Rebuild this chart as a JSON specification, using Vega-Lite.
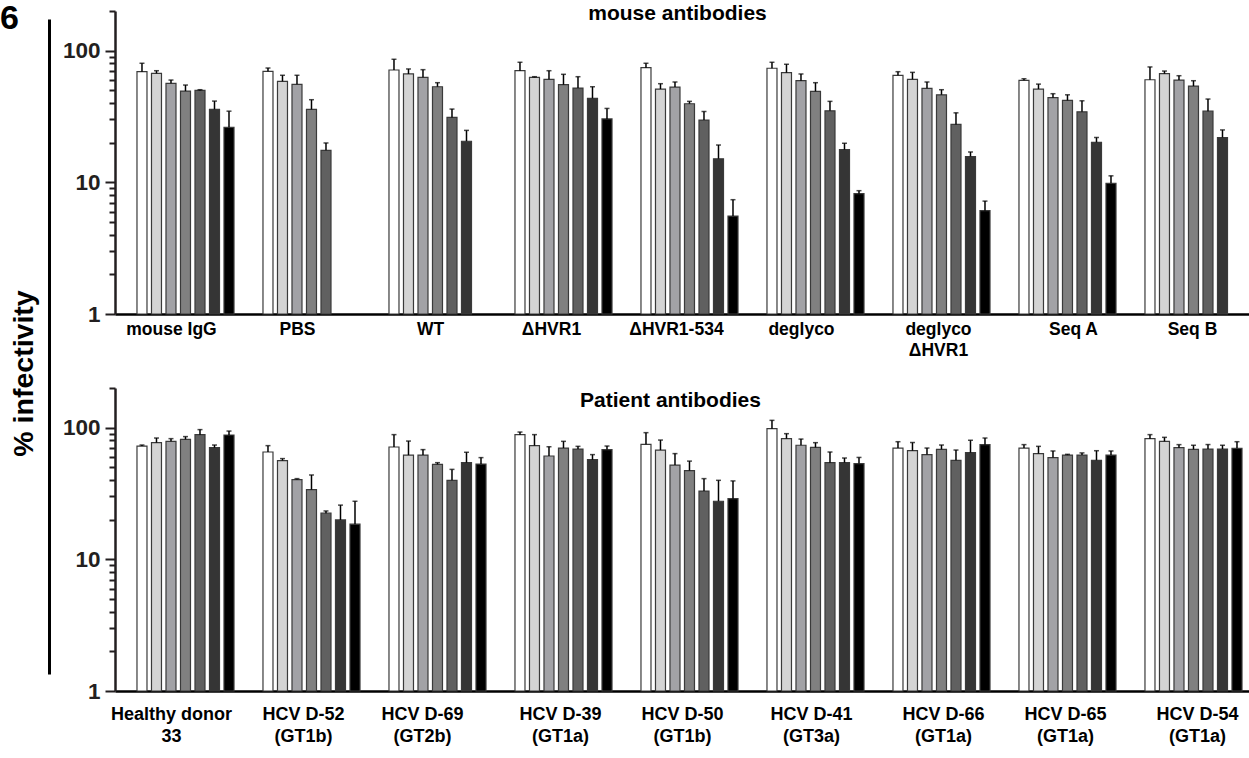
{
  "$schema": "https://vega.github.io/schema/vega-lite/v6.json",
  "padding": 0,
  "background": "white",
  "config": {
    "font": "Liberation Sans",
    "view": {"stroke": null},
    "axis": {"labelFont": "Liberation Sans", "labelFontWeight": "bold", "titleFont": "Liberation Sans", "titleFontWeight": "bold", "grid": false},
    "title": {"font": "Liberation Sans", "fontWeight": "bold", "color": "#000000"}
  },
  "datasets": {
    "bars": [
      {"panel": "mouse", "group": "mouse IgG", "slot": 1, "value": 69.2, "hi": 80.2},
      {"panel": "mouse", "group": "mouse IgG", "slot": 2, "value": 67.3, "hi": 70.4},
      {"panel": "mouse", "group": "mouse IgG", "slot": 3, "value": 56.5, "hi": 59.8},
      {"panel": "mouse", "group": "mouse IgG", "slot": 4, "value": 49.3, "hi": 54.8},
      {"panel": "mouse", "group": "mouse IgG", "slot": 5, "value": 49.9, "hi": 50.5},
      {"panel": "mouse", "group": "mouse IgG", "slot": 6, "value": 35.8, "hi": 41.4},
      {"panel": "mouse", "group": "mouse IgG", "slot": 7, "value": 26.2, "hi": 34.7},
      {"panel": "mouse", "group": "PBS", "slot": 1, "value": 69.7, "hi": 73.8},
      {"panel": "mouse", "group": "PBS", "slot": 2, "value": 58.5, "hi": 65.0},
      {"panel": "mouse", "group": "PBS", "slot": 3, "value": 55.5, "hi": 65.0},
      {"panel": "mouse", "group": "PBS", "slot": 4, "value": 35.8, "hi": 42.4},
      {"panel": "mouse", "group": "PBS", "slot": 5, "value": 17.5, "hi": 19.9},
      {"panel": "mouse", "group": "WT", "slot": 1, "value": 71.3, "hi": 86.0},
      {"panel": "mouse", "group": "WT", "slot": 2, "value": 66.5, "hi": 72.6},
      {"panel": "mouse", "group": "WT", "slot": 3, "value": 62.7, "hi": 71.7},
      {"panel": "mouse", "group": "WT", "slot": 4, "value": 53.2, "hi": 57.1},
      {"panel": "mouse", "group": "WT", "slot": 5, "value": 31.1, "hi": 36.0},
      {"panel": "mouse", "group": "WT", "slot": 6, "value": 20.5, "hi": 24.8},
      {"panel": "mouse", "group": "ΔHVR1", "slot": 1, "value": 70.4, "hi": 81.6},
      {"panel": "mouse", "group": "ΔHVR1", "slot": 2, "value": 62.7, "hi": 63.4},
      {"panel": "mouse", "group": "ΔHVR1", "slot": 3, "value": 60.6, "hi": 70.4},
      {"panel": "mouse", "group": "ΔHVR1", "slot": 4, "value": 55.1, "hi": 66.1},
      {"panel": "mouse", "group": "ΔHVR1", "slot": 5, "value": 52.0, "hi": 63.4},
      {"panel": "mouse", "group": "ΔHVR1", "slot": 6, "value": 43.4, "hi": 53.2},
      {"panel": "mouse", "group": "ΔHVR1", "slot": 7, "value": 30.3, "hi": 36.4},
      {"panel": "mouse", "group": "ΔHVR1-534", "slot": 1, "value": 74.3, "hi": 80.2},
      {"panel": "mouse", "group": "ΔHVR1-534", "slot": 2, "value": 51.1, "hi": 56.1},
      {"panel": "mouse", "group": "ΔHVR1-534", "slot": 3, "value": 52.9, "hi": 57.8},
      {"panel": "mouse", "group": "ΔHVR1-534", "slot": 4, "value": 39.5, "hi": 41.2},
      {"panel": "mouse", "group": "ΔHVR1-534", "slot": 5, "value": 29.7, "hi": 34.5},
      {"panel": "mouse", "group": "ΔHVR1-534", "slot": 6, "value": 15.1, "hi": 19.2},
      {"panel": "mouse", "group": "ΔHVR1-534", "slot": 7, "value": 5.54, "hi": 7.38},
      {"panel": "mouse", "group": "deglyco", "slot": 1, "value": 73.5, "hi": 81.6},
      {"panel": "mouse", "group": "deglyco", "slot": 2, "value": 68.0, "hi": 78.8},
      {"panel": "mouse", "group": "deglyco", "slot": 3, "value": 59.1, "hi": 66.5},
      {"panel": "mouse", "group": "deglyco", "slot": 4, "value": 49.1, "hi": 57.1},
      {"panel": "mouse", "group": "deglyco", "slot": 5, "value": 34.9, "hi": 41.2},
      {"panel": "mouse", "group": "deglyco", "slot": 6, "value": 17.7, "hi": 19.8},
      {"panel": "mouse", "group": "deglyco", "slot": 7, "value": 8.2, "hi": 8.64},
      {"panel": "mouse", "group": "deglyco|ΔHVR1", "slot": 1, "value": 65.0, "hi": 69.2},
      {"panel": "mouse", "group": "deglyco|ΔHVR1", "slot": 2, "value": 60.6, "hi": 68.4},
      {"panel": "mouse", "group": "deglyco|ΔHVR1", "slot": 3, "value": 51.7, "hi": 57.8},
      {"panel": "mouse", "group": "deglyco|ΔHVR1", "slot": 4, "value": 46.2, "hi": 50.5},
      {"panel": "mouse", "group": "deglyco|ΔHVR1", "slot": 5, "value": 27.5, "hi": 33.7},
      {"panel": "mouse", "group": "deglyco|ΔHVR1", "slot": 6, "value": 15.7, "hi": 17.0},
      {"panel": "mouse", "group": "deglyco|ΔHVR1", "slot": 7, "value": 6.09, "hi": 7.2},
      {"panel": "mouse", "group": "Seq A", "slot": 1, "value": 59.5, "hi": 61.2},
      {"panel": "mouse", "group": "Seq A", "slot": 2, "value": 51.1, "hi": 55.7},
      {"panel": "mouse", "group": "Seq A", "slot": 3, "value": 43.9, "hi": 47.1},
      {"panel": "mouse", "group": "Seq A", "slot": 4, "value": 41.9, "hi": 46.2},
      {"panel": "mouse", "group": "Seq A", "slot": 5, "value": 34.3, "hi": 41.6},
      {"panel": "mouse", "group": "Seq A", "slot": 6, "value": 20.1, "hi": 21.9},
      {"panel": "mouse", "group": "Seq A", "slot": 7, "value": 9.83, "hi": 11.2},
      {"panel": "mouse", "group": "Seq B", "slot": 1, "value": 60.1, "hi": 75.2},
      {"panel": "mouse", "group": "Seq B", "slot": 2, "value": 66.8, "hi": 70.0},
      {"panel": "mouse", "group": "Seq B", "slot": 3, "value": 59.8, "hi": 64.5},
      {"panel": "mouse", "group": "Seq B", "slot": 4, "value": 53.8, "hi": 59.1},
      {"panel": "mouse", "group": "Seq B", "slot": 5, "value": 34.7, "hi": 42.9},
      {"panel": "mouse", "group": "Seq B", "slot": 6, "value": 21.9, "hi": 25.0},
      {"panel": "patient", "group": "Healthy donor|33", "slot": 1, "value": 72.5, "hi": 73.8},
      {"panel": "patient", "group": "Healthy donor|33", "slot": 2, "value": 76.9, "hi": 83.4},
      {"panel": "patient", "group": "Healthy donor|33", "slot": 3, "value": 78.7, "hi": 82.5},
      {"panel": "patient", "group": "Healthy donor|33", "slot": 4, "value": 81.5, "hi": 85.5},
      {"panel": "patient", "group": "Healthy donor|33", "slot": 5, "value": 88.5, "hi": 96.6},
      {"panel": "patient", "group": "Healthy donor|33", "slot": 6, "value": 70.4, "hi": 73.8},
      {"panel": "patient", "group": "Healthy donor|33", "slot": 7, "value": 87.9, "hi": 94.2},
      {"panel": "patient", "group": "HCV D-52|(GT1b)", "slot": 1, "value": 65.3, "hi": 73.0},
      {"panel": "patient", "group": "HCV D-52|(GT1b)", "slot": 2, "value": 56.2, "hi": 58.2},
      {"panel": "patient", "group": "HCV D-52|(GT1b)", "slot": 3, "value": 40.3, "hi": 41.0},
      {"panel": "patient", "group": "HCV D-52|(GT1b)", "slot": 4, "value": 33.8, "hi": 43.7},
      {"panel": "patient", "group": "HCV D-52|(GT1b)", "slot": 5, "value": 22.4, "hi": 23.3},
      {"panel": "patient", "group": "HCV D-52|(GT1b)", "slot": 6, "value": 19.9, "hi": 25.8},
      {"panel": "patient", "group": "HCV D-52|(GT1b)", "slot": 7, "value": 18.5, "hi": 27.6},
      {"panel": "patient", "group": "HCV D-69|(GT2b)", "slot": 1, "value": 71.3, "hi": 88.5},
      {"panel": "patient", "group": "HCV D-69|(GT2b)", "slot": 2, "value": 61.9, "hi": 79.1},
      {"panel": "patient", "group": "HCV D-69|(GT2b)", "slot": 3, "value": 61.9, "hi": 68.1},
      {"panel": "patient", "group": "HCV D-69|(GT2b)", "slot": 4, "value": 52.6, "hi": 54.2},
      {"panel": "patient", "group": "HCV D-69|(GT2b)", "slot": 5, "value": 39.8, "hi": 48.2},
      {"panel": "patient", "group": "HCV D-69|(GT2b)", "slot": 6, "value": 54.2, "hi": 65.0},
      {"panel": "patient", "group": "HCV D-69|(GT2b)", "slot": 7, "value": 52.9, "hi": 59.2},
      {"panel": "patient", "group": "HCV D-39|(GT1a)", "slot": 1, "value": 88.5, "hi": 92.6},
      {"panel": "patient", "group": "HCV D-39|(GT1a)", "slot": 2, "value": 73.0, "hi": 88.5},
      {"panel": "patient", "group": "HCV D-39|(GT1a)", "slot": 3, "value": 60.9, "hi": 71.6},
      {"panel": "patient", "group": "HCV D-39|(GT1a)", "slot": 4, "value": 70.0, "hi": 78.7},
      {"panel": "patient", "group": "HCV D-39|(GT1a)", "slot": 5, "value": 68.8, "hi": 72.1},
      {"panel": "patient", "group": "HCV D-39|(GT1a)", "slot": 6, "value": 57.1, "hi": 62.4},
      {"panel": "patient", "group": "HCV D-39|(GT1a)", "slot": 7, "value": 68.1, "hi": 72.5},
      {"panel": "patient", "group": "HCV D-50|(GT1b)", "slot": 1, "value": 74.7, "hi": 91.6},
      {"panel": "patient", "group": "HCV D-50|(GT1b)", "slot": 2, "value": 67.6, "hi": 80.5},
      {"panel": "patient", "group": "HCV D-50|(GT1b)", "slot": 3, "value": 52.0, "hi": 63.5},
      {"panel": "patient", "group": "HCV D-50|(GT1b)", "slot": 4, "value": 47.2, "hi": 55.7},
      {"panel": "patient", "group": "HCV D-50|(GT1b)", "slot": 5, "value": 33.0, "hi": 41.0},
      {"panel": "patient", "group": "HCV D-50|(GT1b)", "slot": 6, "value": 27.6, "hi": 39.8},
      {"panel": "patient", "group": "HCV D-50|(GT1b)", "slot": 7, "value": 28.9, "hi": 39.4},
      {"panel": "patient", "group": "HCV D-41|(GT3a)", "slot": 1, "value": 98.2, "hi": 113.6},
      {"panel": "patient", "group": "HCV D-41|(GT3a)", "slot": 2, "value": 82.5, "hi": 90.0},
      {"panel": "patient", "group": "HCV D-41|(GT3a)", "slot": 3, "value": 73.5, "hi": 81.9},
      {"panel": "patient", "group": "HCV D-41|(GT3a)", "slot": 4, "value": 70.8, "hi": 76.9},
      {"panel": "patient", "group": "HCV D-41|(GT3a)", "slot": 5, "value": 54.2, "hi": 65.3},
      {"panel": "patient", "group": "HCV D-41|(GT3a)", "slot": 6, "value": 54.2, "hi": 58.8},
      {"panel": "patient", "group": "HCV D-41|(GT3a)", "slot": 7, "value": 53.3, "hi": 59.4},
      {"panel": "patient", "group": "HCV D-66|(GT1a)", "slot": 1, "value": 70.0, "hi": 78.2},
      {"panel": "patient", "group": "HCV D-66|(GT1a)", "slot": 2, "value": 66.8, "hi": 77.1},
      {"panel": "patient", "group": "HCV D-66|(GT1a)", "slot": 3, "value": 62.4, "hi": 70.0},
      {"panel": "patient", "group": "HCV D-66|(GT1a)", "slot": 4, "value": 68.4, "hi": 73.8},
      {"panel": "patient", "group": "HCV D-66|(GT1a)", "slot": 5, "value": 56.5, "hi": 67.6},
      {"panel": "patient", "group": "HCV D-66|(GT1a)", "slot": 6, "value": 64.5, "hi": 80.2},
      {"panel": "patient", "group": "HCV D-66|(GT1a)", "slot": 7, "value": 74.3, "hi": 83.4},
      {"panel": "patient", "group": "HCV D-65|(GT1a)", "slot": 1, "value": 70.0, "hi": 74.3},
      {"panel": "patient", "group": "HCV D-65|(GT1a)", "slot": 2, "value": 63.5, "hi": 72.1},
      {"panel": "patient", "group": "HCV D-65|(GT1a)", "slot": 3, "value": 59.2, "hi": 66.5},
      {"panel": "patient", "group": "HCV D-65|(GT1a)", "slot": 4, "value": 61.9, "hi": 62.7},
      {"panel": "patient", "group": "HCV D-65|(GT1a)", "slot": 5, "value": 61.9, "hi": 64.3},
      {"panel": "patient", "group": "HCV D-65|(GT1a)", "slot": 6, "value": 56.5, "hi": 66.8},
      {"panel": "patient", "group": "HCV D-65|(GT1a)", "slot": 7, "value": 61.9, "hi": 66.5},
      {"panel": "patient", "group": "HCV D-54|(GT1a)", "slot": 1, "value": 82.5, "hi": 88.5},
      {"panel": "patient", "group": "HCV D-54|(GT1a)", "slot": 2, "value": 78.7, "hi": 84.4},
      {"panel": "patient", "group": "HCV D-54|(GT1a)", "slot": 3, "value": 70.4, "hi": 74.3},
      {"panel": "patient", "group": "HCV D-54|(GT1a)", "slot": 4, "value": 68.4, "hi": 73.5},
      {"panel": "patient", "group": "HCV D-54|(GT1a)", "slot": 5, "value": 68.8, "hi": 74.4},
      {"panel": "patient", "group": "HCV D-54|(GT1a)", "slot": 6, "value": 68.8, "hi": 73.5},
      {"panel": "patient", "group": "HCV D-54|(GT1a)", "slot": 7, "value": 69.7, "hi": 78.2}
    ]
  },
  "spacing": 9,
  "hconcat": [
    {
      "data": {"name": "bars"},
      "width": 1,
      "height": 663,
      "title": {"text": "6", "anchor": "start", "frame": "group", "fontSize": 34, "dx": -49, "offset": -25},
      "mark": {"type": "point", "opacity": 0},
      "encoding": {
        "y": {
          "field": "value",
          "type": "quantitative",
          "scale": {"range": [663, 8]},
          "axis": {
            "domain": true, "domainColor": "#000000", "domainWidth": 3,
            "ticks": false, "labels": false, "grid": false,
            "title": "% infectivity", "titleFontSize": 28.5, "titleColor": "#000000",
            "titlePadding": 11, "titleY": 362
          }
        }
      }
    },
    {
      "spacing": 17,
      "vconcat": [
        {
          "data": {"name": "bars"},
          "transform": [{"filter": "datum.panel === 'mouse'"}],
          "width": 1135,
          "height": 303,
          "title": {"text": "mouse antibodies", "fontSize": 21, "anchor": "middle", "frame": "group", "offset": -23.6, "dx": -5},
          "encoding": {
            "x": {
              "field": "group", "type": "nominal",
              "sort": ["mouse IgG", "PBS", "WT", "ΔHVR1", "ΔHVR1-534", "deglyco", "deglyco|ΔHVR1", "Seq A", "Seq B"],
              "scale": {"paddingInner": 0.23, "paddingOuter": 0.119, "align": 0.733},
              "axis": {
                "title": null, "ticks": false, "labelAngle": 0,
                "domainColor": "#000000", "domainWidth": 2.5,
                "labelFontSize": 17.5, "labelColor": "#000000", "labelPadding": 6,
                "labelBaseline": "top", "labelLineHeight": 21.7,
                "labelExpr": "split(datum.label, '|')",
                "labelOffset": {"expr": "[-14, -14, -7, -12, -13, -14, -3, 6, -1][indexof(['mouse IgG', 'PBS', 'WT', 'ΔHVR1', 'ΔHVR1-534', 'deglyco', 'deglyco|ΔHVR1', 'Seq A', 'Seq B'], datum.value)]"}
              }
            },
            "xOffset": {"field": "slot", "type": "ordinal", "scale": {"domain": [1, 2, 3, 4, 5, 6, 7], "paddingInner": 0.31, "paddingOuter": 0}}
          },
          "resolve": {"axis": {"y": "independent"}},
          "layer": [
            {
              "mark": {"type": "bar", "stroke": "#3a3a3a", "strokeWidth": 1.2},
              "encoding": {
                "y": {
                  "field": "value", "type": "quantitative", "stack": null,
                  "scale": {"type": "log", "domain": [1, 200], "nice": false},
                  "axis": {
                    "title": null, "orient": "left",
                    "values": [1, 2, 3, 4, 5, 6, 7, 8, 9, 10, 20, 30, 40, 50, 60, 70, 80, 90, 100, 200],
                    "tickCount": 40,
                    "labelExpr": "datum.value == 1 || datum.value == 10 || datum.value == 100 ? datum.value + '' : ''",
                    "tickSize": 10, "tickWidth": 2, "tickColor": "#231f20",
                    "tickDash": {"condition": {"test": "datum.value != 1 && datum.value != 10 && datum.value != 100", "value": [6, 100]}, "value": [100, 0]},
                    "domainColor": "#231f20", "domainWidth": 2.5,
                    "labelFontSize": 22.5, "labelColor": "#231f20", "labelPadding": 5,
                    "labelOverlap": false, "labelFlush": false, "grid": false
                  }
                },
                "y2": {"datum": 1},
                "fill": {
                  "field": "slot", "type": "ordinal", "legend": null,
                  "scale": {"domain": [1, 2, 3, 4, 5, 6, 7], "range": ["#ffffff", "#d4d4d4", "#a2a2a6", "#808080", "#606060", "#353535", "#000000"]}
                }
              }
            },
            {
              "mark": {"type": "rule", "strokeWidth": 1.5, "color": "#000000"},
              "encoding": {
                "y": {"field": "value", "type": "quantitative", "axis": null},
                "y2": {"field": "hi"}
              }
            },
            {
              "mark": {"type": "tick", "orient": "horizontal", "size": 5, "thickness": 1.5, "color": "#000000"},
              "encoding": {
                "y": {"field": "hi", "type": "quantitative", "axis": null}
              }
            }
          ]
        },
        {
          "data": {"name": "bars"},
          "transform": [{"filter": "datum.panel === 'patient'"}],
          "width": 1135,
          "height": 303,
          "title": {"text": "Patient antibodies", "fontSize": 21, "anchor": "middle", "frame": "group", "offset": -34, "dx": -12},
          "encoding": {
            "x": {
              "field": "group", "type": "nominal",
              "sort": ["Healthy donor|33", "HCV D-52|(GT1b)", "HCV D-69|(GT2b)", "HCV D-39|(GT1a)", "HCV D-50|(GT1b)", "HCV D-41|(GT3a)", "HCV D-66|(GT1a)", "HCV D-65|(GT1a)", "HCV D-54|(GT1a)"],
              "scale": {"paddingInner": 0.23, "paddingOuter": 0.119, "align": 0.733},
              "axis": {
                "title": null, "ticks": false, "labelAngle": 0,
                "domainColor": "#000000", "domainWidth": 2.5,
                "labelFontSize": 18, "labelColor": "#000000", "labelPadding": 14,
                "labelBaseline": "top", "labelLineHeight": 22.5,
                "labelExpr": "split(datum.label, '|')",
                "labelOffset": {"expr": "[-14, -8, -15, -3, -7, -4, 2, -2, 4][indexof(['Healthy donor|33', 'HCV D-52|(GT1b)', 'HCV D-69|(GT2b)', 'HCV D-39|(GT1a)', 'HCV D-50|(GT1b)', 'HCV D-41|(GT3a)', 'HCV D-66|(GT1a)', 'HCV D-65|(GT1a)', 'HCV D-54|(GT1a)'], datum.value)]"}
              }
            },
            "xOffset": {"field": "slot", "type": "ordinal", "scale": {"domain": [1, 2, 3, 4, 5, 6, 7], "paddingInner": 0.31, "paddingOuter": 0}}
          },
          "resolve": {"axis": {"y": "independent"}},
          "layer": [
            {
              "mark": {"type": "bar", "stroke": "#3a3a3a", "strokeWidth": 1.2},
              "encoding": {
                "y": {
                  "field": "value", "type": "quantitative", "stack": null,
                  "scale": {"type": "log", "domain": [1, 200], "nice": false},
                  "axis": {
                    "title": null, "orient": "left",
                    "values": [1, 2, 3, 4, 5, 6, 7, 8, 9, 10, 20, 30, 40, 50, 60, 70, 80, 90, 100, 200],
                    "tickCount": 40,
                    "labelExpr": "datum.value == 1 || datum.value == 10 || datum.value == 100 ? datum.value + '' : ''",
                    "tickSize": 10, "tickWidth": 2, "tickColor": "#231f20",
                    "tickDash": {"condition": {"test": "datum.value != 1 && datum.value != 10 && datum.value != 100", "value": [6, 100]}, "value": [100, 0]},
                    "domainColor": "#231f20", "domainWidth": 2.5,
                    "labelFontSize": 22.5, "labelColor": "#231f20", "labelPadding": 5,
                    "labelOverlap": false, "labelFlush": false, "grid": false
                  }
                },
                "y2": {"datum": 1},
                "fill": {
                  "field": "slot", "type": "ordinal", "legend": null,
                  "scale": {"domain": [1, 2, 3, 4, 5, 6, 7], "range": ["#ffffff", "#d4d4d4", "#a2a2a6", "#808080", "#606060", "#353535", "#000000"]}
                }
              }
            },
            {
              "mark": {"type": "rule", "strokeWidth": 1.5, "color": "#000000"},
              "encoding": {
                "y": {"field": "value", "type": "quantitative", "axis": null},
                "y2": {"field": "hi"}
              }
            },
            {
              "mark": {"type": "tick", "orient": "horizontal", "size": 5, "thickness": 1.5, "color": "#000000"},
              "encoding": {
                "y": {"field": "hi", "type": "quantitative", "axis": null}
              }
            }
          ]
        }
      ]
    }
  ]
}
